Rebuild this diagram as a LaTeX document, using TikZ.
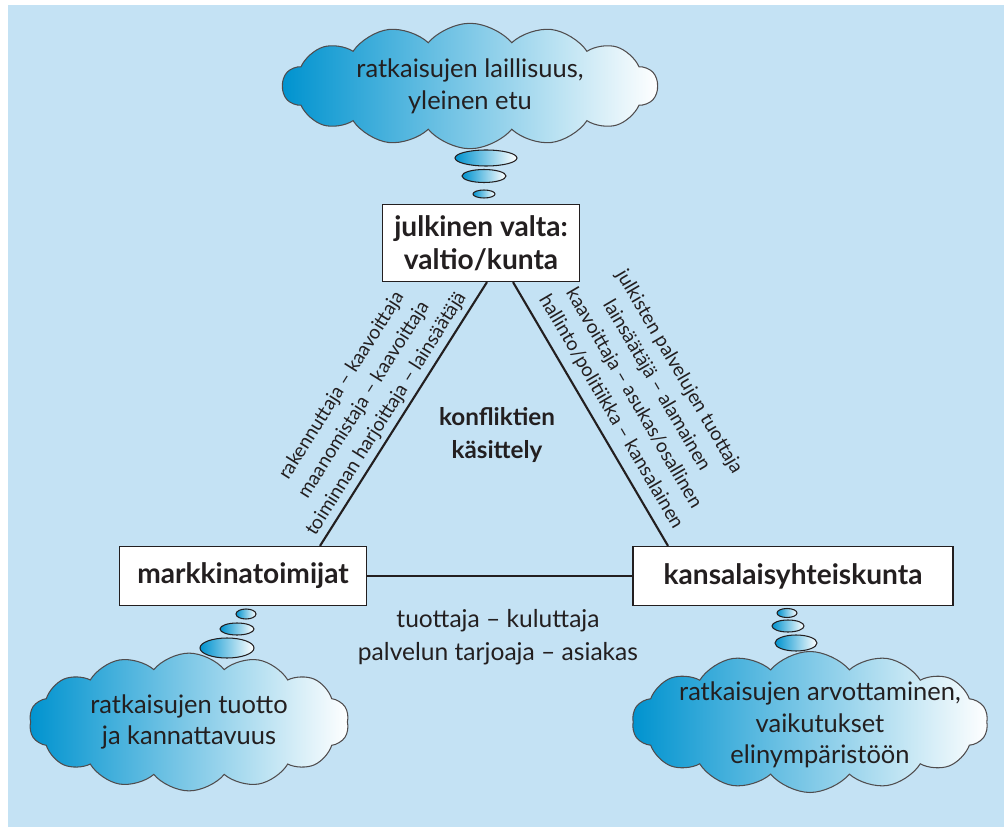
\documentclass[tikz,border=0pt]{standalone}
\usepackage{fontspec}
\setmainfont{Lato}
\usetikzlibrary{shapes.geometric, shapes.symbols, positioning, calc}
\definecolor{bgblue}{HTML}{C4E2F4}
\definecolor{cloudblue}{HTML}{0093CF}
\definecolor{inkgray}{HTML}{231F20}

\begin{document}
\begin{tikzpicture}[x=0.02cm, y=-0.02cm,
    actor/.style={rectangle, draw=inkgray, fill=white, line width=0.7pt, inner sep=0pt, align=center, text=inkgray, font=\bfseries\fontsize{16}{19}\selectfont},
    thought/.style={cloud, cloud puffs=14, cloud puff arc=100, draw=inkgray!80, line width=0.6pt, left color=cloudblue, right color=white, inner sep=0pt, align=center, text=inkgray, font=\fontsize{14.5}{18}\selectfont},
    bubble/.style={ellipse, draw=inkgray, line width=0.6pt, left color=cloudblue, right color=white, inner sep=0pt},
    link/.style={draw=inkgray, line width=1.2pt},
    role/.style={align=center, text=inkgray, font=\fontsize{11}{15}\selectfont, inner sep=0pt},
    theme/.style={align=center, text=inkgray, font=\bfseries\fontsize{13.8}{19}\selectfont}
]
\useasboundingbox (0,0) rectangle (1004,827);
\fill[bgblue] (8,5) rectangle (1004,827);

% Actors
\node[actor, minimum width=3.94cm, minimum height=1.54cm] (state) at (481,243) {julkinen valta:\\valtio/kunta};
\node[actor, minimum width=4.94cm, minimum height=1.18cm] (market) at (243,576) {markkinatoimijat};
\node[actor, minimum width=6.4cm, minimum height=1.18cm] (civic) at (793,576) {kansalaisyhteiskunta};

% Connectors
\draw[link] ($(state.south)+(6,0)$) -- ($(market.north)+(77,0)$);
\draw[link] ($(state.south)+(32,0)$) -- ($(civic.north)+(-125,0)$);
\draw[link] (market.east) -- (civic.west);

% Roles
\node[role, rotate=57.8] (roleleft) at (364,400) {rakennuttaja -- kaavoittaja\\maanomistaja -- kaavoittaja\\toiminnan harjoittaja -- lainsäätäjä};
\node[role, rotate=-59.7] (roleright) at (645,392) {julkisten palvelujen tuottaja\\lainsäätäjä -- alamainen\\kaavoittaja -- asukas/osallinen\\hallinto/politiikka -- kansalainen};
\node[role, font=\fontsize{14}{19}\selectfont] (rolebottom) at (498,637) {tuottaja -- kuluttaja\\palvelun tarjoaja -- asiakas};
\node[theme] (conflict) at (497,435) {konfliktien\\käsittely};

% Clouds
\node[thought, aspect=3.4, minimum width=7.5cm, minimum height=2.2cm] (goalstate) at (470,86) {ratkaisujen laillisuus,\\yleinen etu};
\node[thought, aspect=2.5, minimum width=6.4cm, minimum height=2.55cm] (goalmarket) at (189,722) {ratkaisujen tuotto\\ja kannattavuus};
\node[thought, aspect=2.5, minimum width=7.12cm, minimum height=2.82cm] (goalcivic) at (810,722) {};
\node[align=center, text=inkgray, font=\fontsize{14.5}{18}\selectfont] (goalcivictext) at (820,725) {ratkaisujen arvottaminen,\\vaikutukset\\elinympäristöön};

% Bubbles
\node[bubble, minimum width=1.24cm, minimum height=0.32cm] (bs1) at (486,158) {};
\node[bubble, minimum width=0.88cm, minimum height=0.26cm] (bs2) at (484,176) {};
\node[bubble, minimum width=0.44cm, minimum height=0.16cm] (bs3) at (484,194) {};
\node[bubble, minimum width=0.4cm, minimum height=0.2cm] (bm1) at (246,614) {};
\node[bubble, minimum width=0.68cm, minimum height=0.24cm] (bm2) at (237,629) {};
\node[bubble, minimum width=1.08cm, minimum height=0.4cm] (bm3) at (227,648) {};
\node[bubble, minimum width=0.4cm, minimum height=0.18cm] (bc1) at (787,613) {};
\node[bubble, minimum width=0.64cm, minimum height=0.24cm] (bc2) at (788,626) {};
\node[bubble, minimum width=0.84cm, minimum height=0.32cm] (bc3) at (796,643) {};

\end{tikzpicture}
\end{document}
